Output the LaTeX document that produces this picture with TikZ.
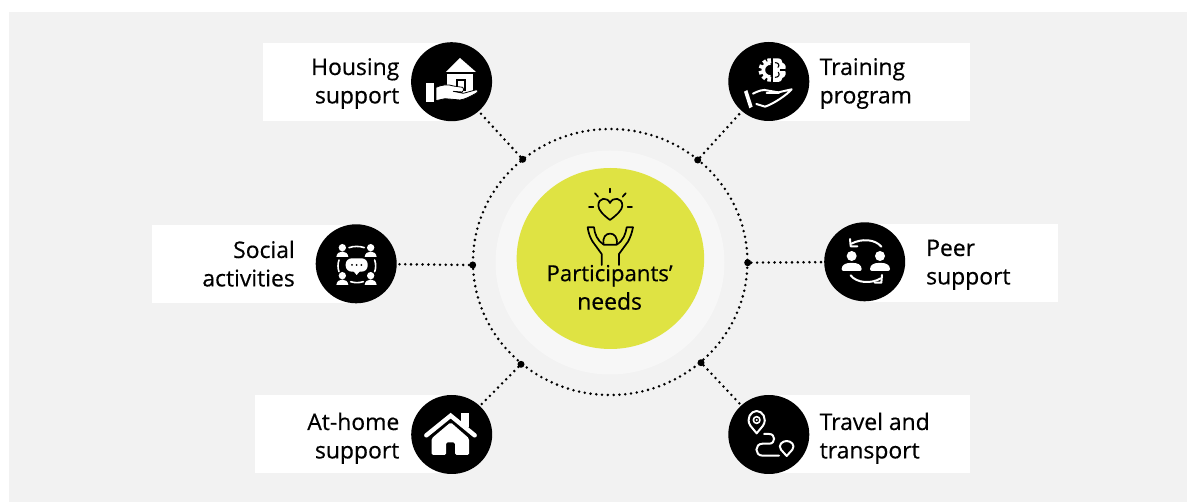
\documentclass[tikz,border=0pt]{standalone}
\usepackage{fontspec}
\setmainfont{Open Sans}[BoldFont={Open Sans},BoldFeatures={FakeBold=0.45}]
\usetikzlibrary{shapes.geometric}
\definecolor{bggrey}{HTML}{F2F2F2}
\definecolor{ringgrey}{HTML}{F7F7F7}
\definecolor{lime}{HTML}{DFE343}
\tikzset{
  whitebox/.style={fill=white,draw=none,inner sep=0pt,outer sep=0pt},
  iconbg/.style={ellipse,fill=black,draw=none,inner sep=0pt,outer sep=0pt,minimum width=81pt,minimum height=79pt},
  ringdot/.style={circle,fill=black,draw=none,inner sep=0pt,minimum size=7pt},
  dotline/.style={line width=2.8pt,line cap=round,dash pattern=on 0pt off 5.8pt,black},
  lbl/.style={font=\fontsize{22.9}{28.4}\selectfont\bfseries,inner sep=0pt,text=black},
  lblR/.style={lbl,align=right,anchor=base east},
  lblL/.style={lbl,align=left,anchor=base west},
  zoomed/.style={x=.33333pt,y=-.33333pt},
  wline/.style={draw=white,line width=2pt,line cap=round,line join=round},
  kline/.style={draw=black,line width=1.7pt,line cap=round,line join=round},
}
\begin{document}
\begin{tikzpicture}[x=1pt,y=-1pt]
\useasboundingbox (0,0) rectangle (1187,502);
\fill[white] (0,0) rectangle (1187,502);
\fill[bggrey] (9,12) rectangle (1187,502);
% white label panels
\fill[whitebox] (263,43) rectangle (452,121);
\fill[whitebox] (769,43) rectangle (970,121);
\fill[whitebox] (152,225) rectangle (356,303);
\fill[whitebox] (865,224) rectangle (1058,302);
\fill[whitebox] (255,395) rectangle (452,473);
\fill[whitebox] (769,395) rectangle (970,473);
% centre
\fill[ringgrey] (610,262.5) ellipse [x radius=114.5,y radius=112];
\node[ellipse,fill=lime,inner sep=0pt,minimum width=187.5pt,minimum height=181pt] (hub) at (610.4,258.5) {};
\draw[dotline] (610.2,262) ellipse [x radius=137.2,y radius=133];
% ring dots
\node[ringdot] (dtl) at (522.7,159.3) {};
\node[ringdot] (dtr) at (697.7,160) {};
\node[ringdot] (dl) at (472.7,265) {};
\node[ringdot] (dr) at (747.7,262.7) {};
\node[ringdot] (dbl) at (521,364.3) {};
\node[ringdot] (dbr) at (701,362.7) {};
% icon discs
\node[iconbg] (housing) at (451.6,81.7) {};
\node[iconbg] (training) at (768.8,81.5) {};
\node[iconbg] (social) at (356.2,263.8) {};
\node[iconbg] (peer) at (864.7,261.8) {};
\node[iconbg] (home) at (451.7,434.5) {};
\node[iconbg] (travel) at (768.8,434.5) {};
% connectors
\draw[dotline,shorten >=1.5pt] (dtl) -- (housing);
\draw[dotline,shorten >=1.5pt] (dtr) -- (training);
\draw[dotline,shorten >=1.5pt] (dl) -- (social);
\draw[dotline,shorten >=1.5pt] (dr) -- (peer);
\draw[dotline,shorten >=1.5pt] (dbl) -- (home);
\draw[dotline,shorten >=1.5pt] (dbr) -- (travel);
% labels
\node[lblR] (t1) at (399.5,103.4) {Housing\\support};
\node[lblL] (t2) at (819.5,103.4) {Training\\program};
\node[lblR] (t3) at (295,286.4) {Social\\activities};
\node[lblL] (t4) at (926,284.4) {Peer\\support};
\node[lblR] (t5) at (399.5,458.4) {At-home\\support};
\node[lblL] (t6) at (819.5,458.4) {Travel and\\transport};
\node[lbl,align=center,anchor=base] (t0) at (609.6,309.6) {\fontsize{22.2}{26.8}\selectfont\bfseries Participants’\\needs};
% housing icon
\begin{scope}[shift={(400,30)},zoomed]
\fill[white] (138,126) -- (180,84) -- (228,126) -- cycle;
\fill[white] (142,131) rectangle (218,192);
\fill[black] (168,148) rectangle (198,184);
\fill[white] (173,153) rectangle (192,178);
\fill[white] (78,160) rectangle (102,217);
\filldraw[fill=white,draw=black,line width=.8pt,line join=round] (108,172) .. controls (125,164) and (145,162) .. (160,168) -- (188,172) .. controls (194,176) and (192,184) .. (186,186) -- (160,184) -- (190,190) -- (226,180) .. controls (236,178) and (236,186) .. (228,190) .. controls (210,200) and (195,208) .. (180,210) -- (135,206) -- (108,212) -- cycle;
\end{scope}
% training icon
\begin{scope}[shift={(715,30)},zoomed]
% gear half
\draw[white,line width=3.6pt] (166,141) arc[start angle=90,end angle=270,radius=21];
\foreach \a in {97,130,165,200,235,263}{
  \draw[white,line width=3.6pt] (166,120) ++(\a:20) -- ++(\a:15);
}
% brain half
\fill[white] (174,85) -- (188,85) .. controls (198,85) and (203,92) .. (202,98) .. controls (212,101) and (215,114) .. (209,120) .. controls (215,128) and (212,141) .. (202,144) .. controls (203,151) and (196,156) .. (186,156) -- (174,156) -- cycle;
\draw[kline,line width=1.1pt] (181,98) .. controls (190,98) and (195,106) .. (189,112);
\draw[kline,line width=1.1pt] (181,142) .. controls (190,142) and (196,134) .. (190,127);
\draw[kline,line width=1.1pt] (196,120) -- (209,120);
% hand
\fill[white] (87,185) -- (97,180) -- (113,230) -- (103,235) -- cycle;
\filldraw[fill=black,draw=white,line width=2pt,line join=round,line cap=round] (114,191) .. controls (128,184) and (145,176) .. (160,182) -- (190,187) -- (230,178) .. controls (215,195) and (175,222) .. (150,230) -- (124,222);
\draw[wline] (155,190) -- (192,190);
\end{scope}
% social icon
\begin{scope}[shift={(305,215)},zoomed]
\foreach \px/\py in {112/98,197/98,112/182,197/182}{
  \fill[white] (\px,\py) circle[radius=11];
  \fill[white] (\px-18,\py+28) .. controls (\px-16,\py+6) and (\px+16,\py+6) .. (\px+18,\py+28) -- cycle;
}
\draw[wline,line width=1.6pt] (132,98) .. controls (145,93) and (165,93) .. (178,98);
\draw[wline,line width=1.6pt] (137,200) .. controls (148,204) and (163,204) .. (175,200);
\draw[wline,line width=1.6pt] (102,135) .. controls (98,146) and (98,160) .. (102,170);
\draw[wline,line width=1.6pt] (209,135) .. controls (213,146) and (213,160) .. (209,170);
\fill[white,rounded corners=6pt] (122,130) rectangle (188,170);
\fill[white] (143,166) -- (155,180) -- (167,166) -- cycle;
\foreach \px in {141,155,169} \fill[black] (\px,150) circle[radius=3];
\end{scope}
% peer icon
\begin{scope}[shift={(810,215)},zoomed]
\foreach \px/\py in {125/123,210/123}{
  \fill[white] (\px,\py) circle[radius=15];
  \fill[white,rounded corners=2pt] (\px-30,\py+45) .. controls (\px-30,\py+25) and (\px-15,\py+21) .. (\px,\py+21) .. controls (\px+15,\py+21) and (\px+30,\py+25) .. (\px+30,\py+45) -- cycle;
}
\draw[wline] (214,95) .. controls (195,72) and (155,70) .. (124,86);
\draw[wline] (120,72) -- (122,94) -- (142,94);
\draw[wline] (122,181) .. controls (140,205) and (185,207) .. (212,190);
\draw[wline] (216,180) -- (214,203) -- (194,203);
\end{scope}
% home icon
\begin{scope}[shift={(400,385)},zoomed]
\fill[white] (183,85) rectangle (207,125);
\draw[white,line width=4.4pt,line cap=round,line join=miter] (79,151) -- (152,92) -- (224,151);
\fill[white,rounded corners=1.5pt] (95,160) -- (152,112) -- (207,160) -- (207,210) -- (165,210) -- (165,172) -- (138,172) -- (138,210) -- (95,210) -- cycle;
\end{scope}
% travel icon
\begin{scope}[shift={(715,385)},zoomed]
\draw[wline] (125,145) -- (106,122) .. controls (92,100) and (108,78) .. (125,78) .. controls (142,78) and (158,100) .. (144,122) -- cycle;
\draw[wline,line width=1.6pt] (125,105) circle[radius=10];
\fill[white] (125,105) circle[radius=3.5];
\draw[wline] (147,147) -- (163,147) .. controls (182,147) and (182,176) .. (163,176) -- (143,176) .. controls (118,176) and (118,212) .. (143,212) -- (192,212);
\draw[wline] (215,213) -- (198,194) .. controls (188,180) and (202,168) .. (215,168) .. controls (228,168) and (242,180) .. (232,194) -- cycle;
\end{scope}
% centre icon
\begin{scope}[shift={(460,110)},zoomed]
\draw[kline] (450,330) .. controls (430,315) and (415,300) .. (415,287) .. controls (415,262) and (442,260) .. (450,279) .. controls (458,260) and (487,262) .. (487,287) .. controls (487,300) and (470,315) .. (450,330) -- cycle;
\draw[kline] (450,236) -- (450,247);
\draw[kline] (405,250) -- (414,260);
\draw[kline] (497,250) -- (488,260);
\draw[kline] (387,291) -- (400,291);
\draw[kline] (503,291) -- (516,291);
\draw[kline] (431,403) .. controls (422,360) and (478,360) .. (470,403);
\draw[kline] (425,465) -- (425,432) -- (398,395) .. controls (390,382) and (385,368) .. (383,352) -- (402,352) .. controls (404,372) and (412,392) .. (431,404) -- (470,404) .. controls (490,392) and (497,372) .. (500,352) -- (519,352) .. controls (516,368) and (511,382) .. (504,395) -- (477,432) -- (477,465);
\end{scope}
\end{tikzpicture}
\end{document}
